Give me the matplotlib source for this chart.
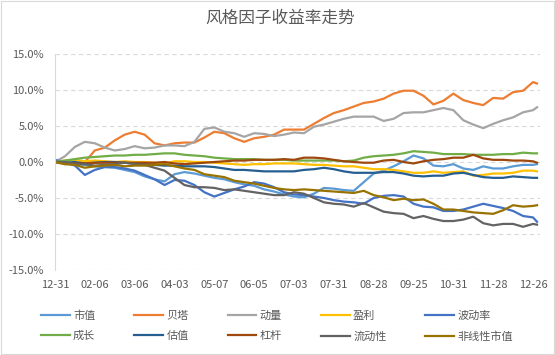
import matplotlib
matplotlib.use("Agg")
import matplotlib.pyplot as plt
from matplotlib.patches import Rectangle
from matplotlib.ticker import FuncFormatter

plt.rcParams['font.family'] = ['Noto Sans CJK SC', 'DejaVu Sans']

# 交易日序号（每5个交易日取一个点，最后一天为242）
day_idx = list(range(0, 241, 5)) + [242]
tick_idx = list(range(0, 241, 20))
tick_labels = ["12-31", "02-06", "03-06", "04-03", "05-07", "06-05", "07-03",
               "07-31", "08-28", "09-25", "10-31", "11-28", "12-26"]

# 累计收益率（%）
shizhi = [0.0, -0.2, -0.3, -0.4, -0.6, -0.7, -0.8, -1.1, -1.4, -2.0,
          -2.4, -2.7, -1.7, -1.4, -1.6, -1.9, -2.2, -2.4, -2.8, -3.1,
          -3.3, -3.8, -4.1, -4.5, -4.8, -4.9, -4.4, -3.6, -3.7, -3.9,
          -4.0, -2.8, -1.6, -1.2, -0.6, 0.1, 0.9, 0.5, -0.5, -0.6,
          -0.3, -0.9, -1.1, -0.6, -0.9, -0.9, -0.6, -0.4, -0.4, -0.3]
beta = [0.0, -0.3, -0.2, 0.0, 1.6, 2.0, 3.0, 3.8, 4.2, 3.8,
        2.6, 2.3, 2.6, 2.7, 2.7, 3.4, 4.2, 4.0, 3.3, 2.8,
        3.3, 3.5, 3.8, 4.5, 4.5, 4.5, 5.3, 6.1, 6.8, 7.2,
        7.7, 8.2, 8.4, 8.8, 9.5, 9.9, 9.9, 9.2, 8.0, 8.5,
        9.5, 8.6, 8.2, 7.9, 8.9, 8.8, 9.7, 9.9, 11.1, 10.9]
dongliang = [0.0, 0.8, 2.1, 2.8, 2.6, 2.0, 1.6, 1.8, 2.2, 1.9,
             2.0, 2.3, 2.3, 2.2, 2.8, 4.6, 4.8, 4.2, 4.0, 3.5,
             4.0, 3.9, 3.6, 3.8, 4.1, 4.0, 4.9, 5.2, 5.6, 6.0,
             6.3, 6.3, 6.3, 5.7, 6.0, 6.8, 6.9, 6.9, 7.2, 7.5,
             7.2, 5.8, 5.2, 4.7, 5.3, 5.8, 6.2, 6.9, 7.2, 7.6]
yingli = [0.0, 0.2, 0.3, 0.1, 0.2, 0.1, 0.0, 0.1, 0.0, 0.0,
          -0.1, -0.2, 0.1, 0.1, 0.0, 0.0, -0.1, -0.2, -0.3, -0.4,
          -0.3, -0.3, -0.2, -0.2, -0.2, -0.3, -0.4, -0.4, -0.5, -0.6,
          -0.6, -0.8, -1.0, -1.0, -1.1, -1.3, -1.5, -1.5, -1.3, -1.5,
          -1.4, -1.3, -1.9, -1.8, -1.6, -1.6, -1.5, -1.2, -1.2, -1.3]
bodonglv = [0.3, -0.1, -0.5, -1.8, -1.1, -0.7, -0.7, -0.9, -1.2, -1.8,
            -2.4, -3.2, -2.5, -2.6, -3.2, -4.2, -4.8, -4.3, -3.8, -3.4,
            -2.8, -3.0, -3.5, -4.2, -4.5, -4.6, -4.8, -5.0, -5.3, -5.5,
            -5.6, -5.8, -5.0, -4.7, -4.6, -4.8, -5.8, -6.2, -6.3, -6.8,
            -6.8, -6.6, -6.2, -5.8, -6.1, -6.4, -6.8, -7.5, -7.7, -8.3]
chengzhang = [0.0, 0.2, 0.4, 0.6, 0.7, 0.8, 0.9, 0.9, 1.0, 1.0,
              1.1, 1.2, 1.2, 1.0, 0.9, 0.8, 0.6, 0.5, 0.4, 0.4,
              0.4, 0.3, 0.3, 0.3, 0.2, 0.2, 0.2, 0.2, 0.2, 0.1,
              0.2, 0.6, 0.8, 0.9, 1.0, 1.2, 1.5, 1.4, 1.3, 1.1,
              1.1, 1.1, 1.0, 1.0, 1.0, 1.1, 1.1, 1.3, 1.2, 1.2]
guzhi = [0.0, -0.1, 0.0, -0.2, -0.1, 0.0, 0.0, -0.1, -0.2, -0.3,
         -0.4, -0.5, -0.5, -0.6, -0.6, -0.6, -0.7, -0.9, -1.1, -1.1,
         -1.2, -1.3, -1.3, -1.3, -1.3, -1.1, -1.0, -0.8, -1.0, -1.3,
         -1.5, -1.5, -1.5, -1.4, -1.4, -1.6, -1.9, -2.0, -1.9, -1.9,
         -1.6, -1.5, -1.8, -2.1, -2.2, -2.2, -2.0, -2.1, -2.2, -2.2]
ganggan = [0.0, -0.1, -0.2, -0.2, -0.1, -0.1, -0.1, -0.1, -0.1, -0.1,
           -0.1, 0.0, -0.2, -0.3, -0.2, -0.1, 0.0, 0.1, 0.2, 0.2,
           0.3, 0.3, 0.3, 0.4, 0.3, 0.6, 0.6, 0.5, 0.3, 0.1,
           0.0, -0.1, -0.1, 0.2, 0.3, 0.0, -0.2, 0.1, 0.3, 0.4,
           0.6, 0.6, 1.0, 0.5, 0.3, 0.3, 0.2, 0.2, 0.1, -0.1]
liudongxing = [0.0, 0.0, -0.3, -0.3, -0.5, -0.4, -0.3, -0.1, -0.3, -0.4,
               -0.8, -1.2, -2.2, -3.2, -3.5, -3.5, -3.6, -3.9, -3.8, -4.0,
               -4.2, -4.4, -4.6, -4.6, -4.2, -4.4, -5.0, -5.6, -5.8, -5.9,
               -6.2, -5.7, -6.3, -6.9, -7.1, -7.2, -7.8, -7.5, -7.9, -8.2,
               -8.2, -8.0, -7.6, -8.5, -8.8, -8.6, -8.6, -9.0, -8.6, -8.7]
feixian = [0.0, -0.3, -0.4, -0.8, -0.6, -0.5, -0.4, -0.6, -0.5, -0.5,
           -0.4, -0.3, -0.6, -0.9, -1.1, -1.7, -1.9, -2.1, -2.6, -2.8,
           -3.0, -3.3, -3.6, -3.8, -3.9, -3.8, -3.9, -4.0, -4.1, -4.2,
           -4.3, -4.0, -4.6, -4.9, -5.3, -5.1, -5.3, -5.2, -5.8, -6.6,
           -6.6, -6.8, -7.0, -7.1, -7.2, -6.7, -6.0, -6.2, -6.1, -6.0]

series = [
    ("市值", shizhi, "#5B9BD5"),
    ("贝塔", beta, "#ED7D31"),
    ("动量", dongliang, "#A5A5A5"),
    ("盈利", yingli, "#FFC000"),
    ("波动率", bodonglv, "#4472C4"),
    ("成长", chengzhang, "#70AD47"),
    ("估值", guzhi, "#255E91"),
    ("杠杆", ganggan, "#9E480E"),
    ("流动性", liudongxing, "#636363"),
    ("非线性市值", feixian, "#997300"),
]

fig = plt.figure(figsize=(5.55, 3.55), dpi=100)
ax = fig.add_axes([55 / 555, 1 - 270 / 355, 485 / 555, 216 / 355])

lines = []
for name, vals, col in series:
    ln, = ax.plot(day_idx, vals, color=col, linewidth=1.6, label=name)
    lines.append(ln)

ax.set_xlim(0, 243.5)
ax.set_ylim(-15, 15)
ax.set_yticks([-15, -10, -5, 0, 5, 10, 15])
ax.yaxis.set_major_formatter(FuncFormatter(lambda v, p: f"{v:.1f}%"))
ax.set_xticks(tick_idx)
ax.set_xticklabels(tick_labels)
ax.tick_params(axis='both', length=0, labelsize=8, labelcolor='#595959')
ax.tick_params(axis='y', pad=8)
ax.tick_params(axis='x', pad=7)

ax.grid(axis='y', color='#D9D9D9', linestyle=(0, (4, 3)), linewidth=0.8)
ax.set_axisbelow(True)
for s in ['top', 'right', 'bottom']:
    ax.spines[s].set_visible(False)
ax.spines['left'].set_color('#D9D9D9')
ax.spines['left'].set_linewidth(0.8)

fig.text(0.505, 1 - 18 / 355, "风格因子收益率走势", ha='center', va='center',
         fontsize=12, color='#595959')

# 图例按行排列：matplotlib 按列填充，所以重新排序
order = [0, 5, 1, 6, 2, 7, 3, 8, 4, 9]
fig.legend([lines[i] for i in order], [series[i][0] for i in order],
           loc='center', bbox_to_anchor=(277 / 555, 1 - 326 / 355), ncol=5,
           frameon=False, fontsize=8, handlelength=2.6, handletextpad=0.3,
           columnspacing=3.5, labelspacing=0.9, borderpad=0,
           labelcolor='#595959')

fig.add_artist(Rectangle((0.001, 0.002), 0.997, 0.996, transform=fig.transFigure,
                         fill=False, edgecolor='#D9D9D9', linewidth=0.8))

fig.savefig("out.png", dpi=100)
